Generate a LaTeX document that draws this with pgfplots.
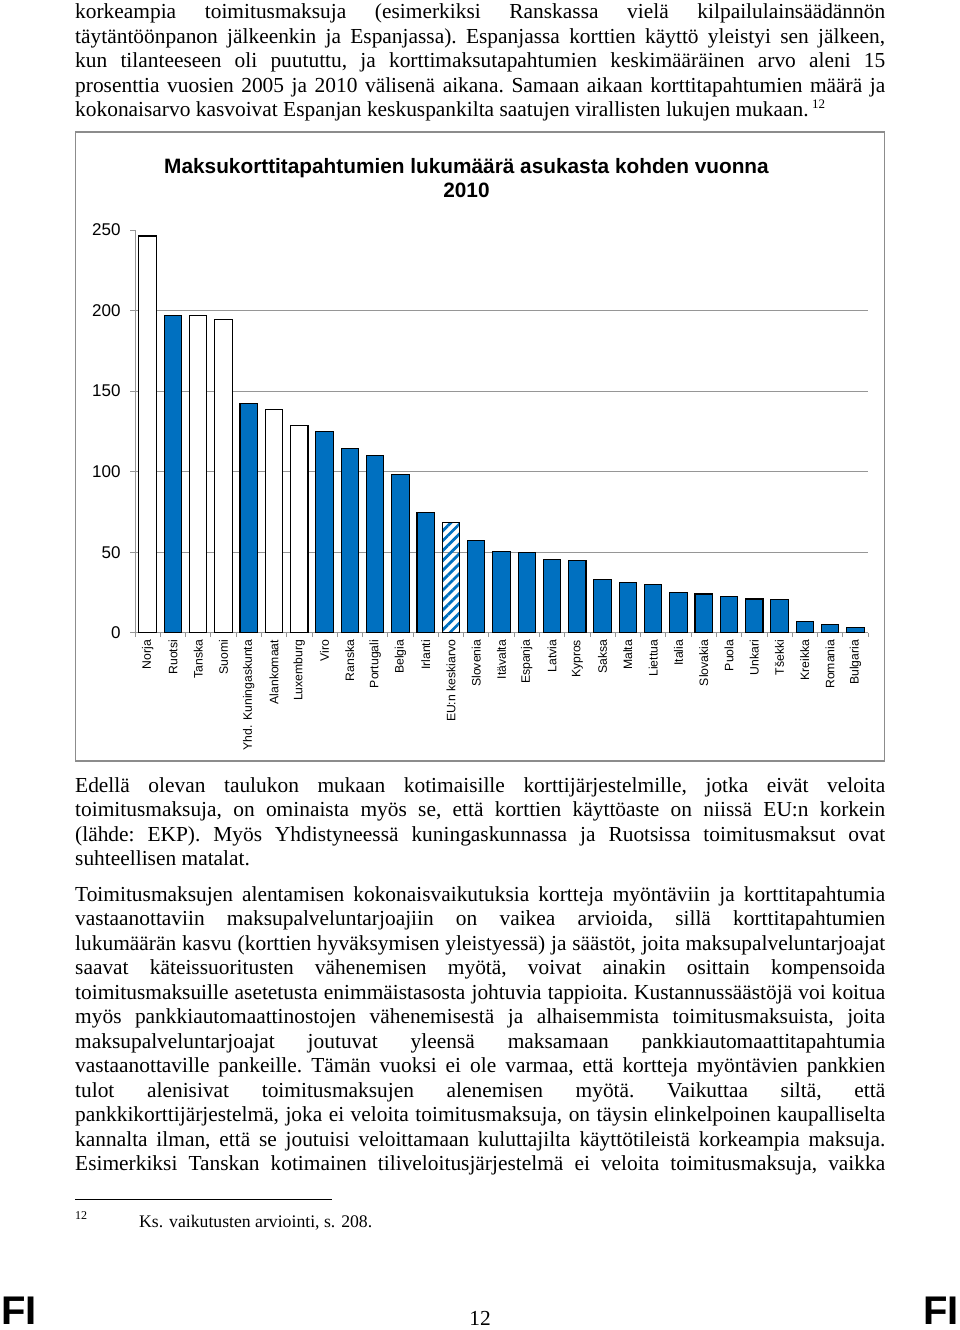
\documentclass[border=0pt]{standalone}
\usepackage{fontspec}
\setmainfont{Liberation Serif}
\newfontfamily\arial{Liberation Sans}
\usepackage{graphicx}
\usepackage{pgfplots}
\pgfplotsset{compat=1.18}
\usetikzlibrary{patterns.meta}
\definecolor{barblue}{RGB}{0,112,192}
\definecolor{gridgray}{RGB}{150,150,150}
\definecolor{framegray}{RGB}{140,140,140}

\newcommand\bodyfont{\fontsize{21.4}{24.5}\selectfont\frenchspacing}
\newsavebox\lbox
\newcommand\jl[1]{\sbox\lbox{#1}%
  \ifdim\wd\lbox>810pt
    \hbox to 810pt{\resizebox{810pt}{\height}{\usebox\lbox}}%
  \else
    \hbox to 810pt{\spaceskip=0.25em plus 1fil\relax #1}%
  \fi}
\newcommand\nl[1]{\hbox to 810pt{#1\hfil}}

\pgfplotstableread{
x y
0 246.3
2 196.7
3 194.2
5 138.3
6 128.4
}\whitebars
\pgfplotstableread{
x y
1 196.9
4 142.3
7 125.1
8 114.1
9 110.0
10 98.2
11 74.6
13 57.1
14 50.5
15 49.8
16 45.7
17 44.7
18 33.1
19 31.4
20 30.2
21 25.2
22 24.0
23 22.3
24 20.9
25 20.5
26 7.2
27 5.0
28 3.1
}\bluebars
\pgfplotstableread{
x y
12 68.2
}\eubar

\begin{document}
\begin{tikzpicture}
\path[use as bounding box] (0,0) rectangle (960pt,-1330pt);

\begin{scope}[x=1pt,y=-1pt]
% chart frame
\draw[framegray, line width=1.3pt] (75.5,132) rectangle (884.5,761);

% body text, paragraph 1
\node[anchor=base west, inner sep=0pt] at (75,19) {\vtop{\hsize=810pt\bodyfont
\jl{korkeampia toimitusmaksuja (esimerkiksi Ranskassa vielä kilpailulainsäädännön}
\jl{täytäntöönpanon jälkeenkin ja Espanjassa). Espanjassa korttien käyttö yleistyi sen jälkeen,}
\jl{kun tilanteeseen oli puututtu, ja korttimaksutapahtumien keskimääräinen arvo aleni 15}
\jl{prosenttia vuosien 2005 ja 2010 välisenä aikana. Samaan aikaan korttitapahtumien määrä ja}
\nl{kokonaisarvo kasvoivat Espanjan keskuspankilta saatujen virallisten lukujen mukaan.\,\raisebox{8pt}{\fontsize{13}{13}\selectfont 12}}
}};

% paragraph 2
\node[anchor=base west, inner sep=0pt] at (75,792) {\vtop{\hsize=810pt\bodyfont
\jl{Edellä olevan taulukon mukaan kotimaisille korttijärjestelmille, jotka eivät veloita}
\jl{toimitusmaksuja, on ominaista myös se, että korttien käyttöaste on niissä EU:n korkein}
\jl{(lähde: EKP). Myös Yhdistyneessä kuningaskunnassa ja Ruotsissa toimitusmaksut ovat}
\nl{suhteellisen matalat.}
}};

% paragraph 3
\node[anchor=base west, inner sep=0pt] at (75,901) {\vtop{\hsize=810pt\bodyfont
\jl{Toimitusmaksujen alentamisen kokonaisvaikutuksia kortteja myöntäviin ja korttitapahtumia}
\jl{vastaanottaviin maksupalveluntarjoajiin on vaikea arvioida, sillä korttitapahtumien}
\jl{lukumäärän kasvu (korttien hyväksymisen yleistyessä) ja säästöt, joita maksupalveluntarjoajat}
\jl{saavat käteissuoritusten vähenemisen myötä, voivat ainakin osittain kompensoida}
\jl{toimitusmaksuille asetetusta enimmäistasosta johtuvia tappioita. Kustannussäästöjä voi koitua}
\jl{myös pankkiautomaattinostojen vähenemisestä ja alhaisemmista toimitusmaksuista, joita}
\jl{maksupalveluntarjoajat joutuvat yleensä maksamaan pankkiautomaattitapahtumia}
\jl{vastaanottaville pankeille. Tämän vuoksi ei ole varmaa, että kortteja myöntävien pankkien}
\jl{tulot alenisivat toimitusmaksujen alenemisen myötä. Vaikuttaa siltä, että}
\jl{pankkikorttijärjestelmä, joka ei veloita toimitusmaksuja, on täysin elinkelpoinen kaupalliselta}
\jl{kannalta ilman, että se joutuisi veloittamaan kuluttajilta käyttötileistä korkeampia maksuja.}
\jl{Esimerkiksi Tanskan kotimainen tiliveloitusjärjestelmä ei veloita toimitusmaksuja, vaikka}
}};

% footnote
\draw[black, line width=1pt] (75,1199) -- (332,1199);
\node[anchor=base west, inner sep=0pt, font=\fontsize{12}{12}\selectfont] at (75,1219) {12};
\node[anchor=base west, inner sep=0pt, font=\fontsize{17.7}{19}\selectfont] at (139,1227) {Ks. vaikutusten arviointi, s. 208.};

% page footer
\node[anchor=base, inner sep=0pt, font=\bodyfont] at (480,1325) {12};
\node[anchor=base west, inner sep=0pt, font=\arial\bfseries\fontsize{40}{44}\selectfont] at (1,1324) {FI};
\node[anchor=base east, inner sep=0pt, font=\arial\bfseries\fontsize{40}{44}\selectfont] at (959,1324) {FI};

% chart title
\node[anchor=base, inner sep=0pt, font=\arial\bfseries\fontsize{20.8}{24}\selectfont] at (466.5,173) {Maksukorttitapahtumien lukumäärä asukasta kohden vuonna};
\node[anchor=base, inner sep=0pt, font=\arial\bfseries\fontsize{20.8}{24}\selectfont] at (466.5,197) {2010};
\end{scope}

\begin{axis}[
  at={(135pt,-632.7pt)}, anchor=south west,
  scale only axis, width=733pt, height=402.7pt,
  xmin=-0.5, xmax=28.5, ymin=0, ymax=250,
  enlargelimits=false,
  axis lines=left,
  axis line style={-, gridgray, line width=1pt},
  tick align=outside,
  ytick={0,50,...,200},
  extra y ticks={250},
  extra y tick style={grid=none},
  ymajorgrids,
  major grid style={gridgray, line width=1pt},
  major tick length=5pt,
  minor tick length=4pt,
  tick style={gridgray, line width=0.8pt},
  /pgf/number format/assume math mode=true,
  yticklabel style={font=\arial\fontsize{17}{20}\selectfont, xshift=-6pt},
  xtick={0,...,28},
  major x tick style={draw=none},
  minor xtick={-0.5,0.5,...,28.5},
  xticklabels={Norja,Ruotsi,Tanska,Suomi,Yhd. Kuningaskunta,Alankomaat,Luxemburg,Viro,Ranska,Portugali,Belgia,Irlanti,EU:n keskiarvo,Slovenia,Itävalta,Espanja,Latvia,Kypros,Saksa,Malta,Liettua,Italia,Slovakia,Puola,Unkari,Tšekki,Kreikka,Romania,Bulgaria},
  xticklabel style={rotate=90, anchor=east, font=\arial\fontsize{12.2}{14}\selectfont, inner sep=2pt},
  ybar, bar width=17.4pt, bar shift=0pt,
]
\addplot[draw=black, line width=1.1pt, fill=white] table[x=x,y=y] {\whitebars};
\addplot[draw=black, line width=1.1pt, fill=barblue] table[x=x,y=y] {\bluebars};
\addplot[draw=black, line width=1.1pt, pattern={Lines[angle=45,distance=7pt,line width=2.8pt]}, pattern color=barblue] table[x=x,y=y] {\eubar};
\end{axis}
\end{tikzpicture}
\end{document}
